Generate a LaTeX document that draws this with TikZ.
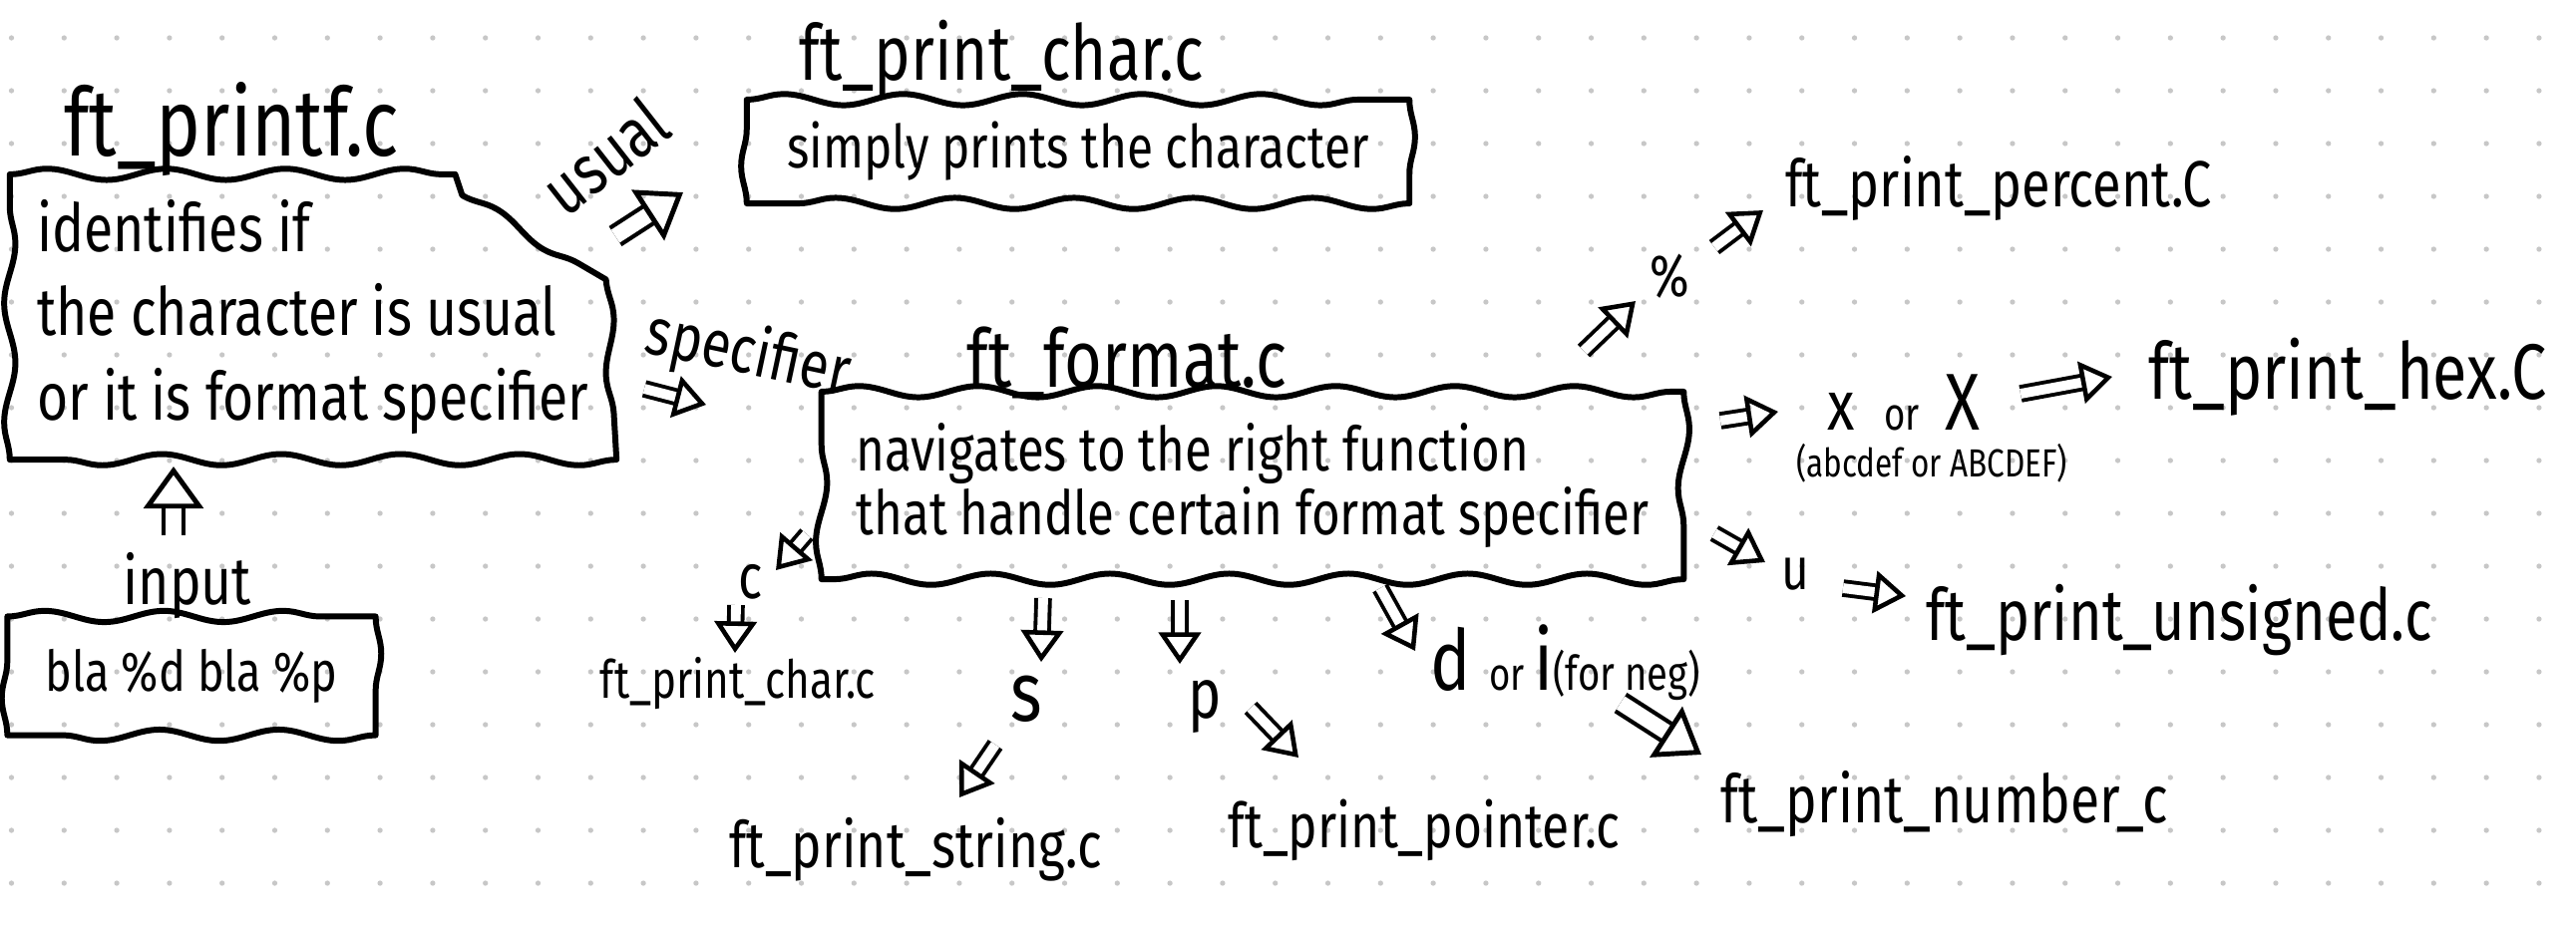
\documentclass[tikz,border=0pt]{standalone}
\usepackage{fontspec}
\setmainfont{Fira Sans}[FakeStretch=0.8]
\usetikzlibrary{arrows.meta,decorations.pathmorphing}

\newcommand{\fsz}[1]{\fontsize{#1}{#1}\selectfont}
% caja ondulada alrededor de un nodo
\newcommand{\wavybox}[1]{%
  \draw[wavy] (#1.north west) decorate{-- (#1.north east)}
    decorate{-- (#1.south east)} decorate{-- (#1.south west)}
    decorate{-- (#1.north west)};}

\tikzset{
  griddot/.style={fill=black!22},
  boxtext/.style={inner sep=0pt, outer sep=2pt},
  wavy/.style={line width=1.7pt, line join=round, line cap=round,
    decoration={snake, amplitude=1.6pt, segment length=34pt}},
  harrow/.style={double=white, double distance=2.8pt, line width=1.1pt,
    -{Triangle[open, length=9pt, width=12pt, line width=1.3pt]}},
  bigarrow/.style={double=white, double distance=4.4pt, line width=1.2pt,
    -{Triangle[open, length=12pt, width=17pt, line width=1.4pt]}},
}

\begin{document}
\begin{tikzpicture}[x=0.01cm, y=-0.01cm]
    \useasboundingbox (0,0) rectangle (2583,929);
    \fill[white] (0,0) rectangle (2583,929);

    % Cuadricula de puntos
    \foreach \i in {0,...,48}
        \foreach \j in {0,...,16}
            \fill[griddot] ({11.5+52.8*\i},{38+53*\j}) circle[radius=0.75pt];

    % Archivo principal
    \node[font=\fsz{27}, anchor=base] (printf) at (232,156) {ft\_printf.c};
    \node[boxtext, font=\fontsize{19}{23.9}\selectfont, align=left,
          minimum width=5.94cm, minimum height=2.72cm] (box1) at (314,318)
          {identifies if\\the character is usual\\or it is format specifier};
    \draw[wavy] (box1.north west) decorate{-- ([xshift=-46pt]box1.north east)}
        -- ([xshift=-44pt,yshift=-6pt]box1.north east)
        decorate{-- ([xshift=-3pt,yshift=-30pt]box1.north east)}
        decorate{-- (box1.south east)} decorate{-- (box1.south west)}
        decorate{-- (box1.north west)};
    \node[font=\fsz{20}, rotate=38] (usual) at (606,156) {usual};
    \node[font=\fsz{19}, rotate=-12] (spec) at (750,356) {specifier};

    % Entrada
    \node[font=\fsz{19}, anchor=base] (input) at (188,606) {input};
    \node[boxtext, font=\fsz{16}, minimum width=3.55cm, minimum height=1.05cm]
          (box4) at (192,678) {bla \%d bla \%p};
    \wavybox{box4}

    % Caracter normal
    \node[font=\fsz{22}, anchor=base] (char) at (1004,80) {ft\_print\_char.c};
    \node[boxtext, font=\fsz{17}, minimum width=6.5cm, minimum height=0.9cm]
          (box2) at (1081,152) {simply prints the character};
    \wavybox{box2}

    % Especificador
    \node[font=\fsz{23}, anchor=base] (format) at (1130,388) {ft\_format.c};
    \node[boxtext, font=\fontsize{17.5}{16.5}\selectfont, align=left,
          minimum width=8.5cm, minimum height=1.74cm] (box3) at (1256,487)
          {navigates to the right function\\that handle certain format specifier};
    \wavybox{box3}

    % Casos
    \node[font=\fsz{18}, anchor=base] (cl) at (753,600) {c};
    \node[font=\fsz{15}, anchor=base] (chr) at (740,700) {ft\_print\_char.c};
    \node[font=\fsz{24}, anchor=base] (sl) at (1029,723) {s};
    \node[font=\fsz{18.3}, anchor=base] (str) at (918,870) {ft\_print\_string.c};
    \node[font=\fsz{20}, anchor=base] (pl) at (1208,720) {p};
    \node[font=\fsz{17.7}, anchor=base] (ptr) at (1428,850) {ft\_print\_pointer.c};
    \node[anchor=base] (dl) at (1570,692) {\fsz{24}d \fsz{13}or \fsz{24}i\fsz{13.6}(for neg)};
    \node[font=\fsz{19}, anchor=base] (num) at (1950,825) {ft\_print\_number\_c};
    \node[font=\fsz{17}, anchor=base] (ul) at (1800,591) {u};
    \node[font=\fsz{20.5}, anchor=base] (uns) at (2185,642) {ft\_print\_unsigned.c};
    \node[font=\fsz{20}, anchor=base] (xs) at (1846,431) {x};
    \node[font=\fsz{13}, anchor=base] (xor) at (1907,431) {or};
    \node[font=\fsz{23}, anchor=base] (xb) at (1968,431) {X};
    \node[font=\fsz{11.2}, anchor=base] (hexd) at (1937,478) {(abcdef or ABCDEF)};
    \node[font=\fsz{22.4}, anchor=base] (hex) at (2354,400) {ft\_print\_hex.C};
    \node[font=\fsz{17}, anchor=base] (pc) at (1674,297) {\%};
    \node[font=\fsz{18.6}, anchor=base] (pct) at (2004,207) {ft\_print\_percent.C};

    % Extremos de flechas
    \coordinate (usT) at (617,237);  \coordinate (usH) at (685,193);
    \coordinate (spT) at (646,390);  \coordinate (spH) at (708,406);
    \coordinate (inT) at (174,537);  \coordinate (inH) at (174,468);
    \coordinate (cT) at (809,536);   \coordinate (cH) at (778,572);
    \coordinate (c2T) at (738,607);  \coordinate (c2H) at (737,655);
    \coordinate (sT) at (1046,600);  \coordinate (sH) at (1044,664);
    \coordinate (s2T) at (998,747);  \coordinate (s2H) at (962,800);
    \coordinate (pT) at (1183,602);  \coordinate (pH) at (1183,666);
    \coordinate (p2T) at (1254,710); \coordinate (p2H) at (1302,760);
    \coordinate (dT) at (1384,590);  \coordinate (dH) at (1419,653);
    \coordinate (d2T) at (1625,705); \coordinate (d2H) at (1706,757);
    \coordinate (uT) at (1719,535);  \coordinate (uH) at (1770,564);
    \coordinate (u2T) at (1848,590); \coordinate (u2H) at (1911,598);
    \coordinate (xT) at (1725,422);  \coordinate (xH) at (1783,413);
    \coordinate (x2T) at (2026,395); \coordinate (x2H) at (2118,378);
    \coordinate (pcT) at (1588,352); \coordinate (pcH) at (1640,302);
    \coordinate (pc2T) at (1719,248); \coordinate (pc2H) at (1768,211);

    % Flechas
    \draw[bigarrow] (usT) -- (usH);
    \draw[harrow] (spT) -- (spH);
    \draw[bigarrow] (inT) -- (inH);
    \draw[harrow] (cT) -- (cH);
    \draw[harrow] (c2T) -- (c2H);
    \draw[harrow] (sT) -- (sH);
    \draw[harrow] (s2T) -- (s2H);
    \draw[harrow] (pT) -- (pH);
    \draw[harrow] (p2T) -- (p2H);
    \draw[harrow] (dT) -- (dH);
    \draw[bigarrow] (d2T) -- (d2H);
    \draw[harrow] (uT) -- (uH);
    \draw[harrow] (u2T) -- (u2H);
    \draw[harrow] (xT) -- (xH);
    \draw[harrow] (x2T) -- (x2H);
    \draw[harrow] (pcT) -- (pcH);
    \draw[harrow] (pc2T) -- (pc2H);
\end{tikzpicture}
\end{document}
